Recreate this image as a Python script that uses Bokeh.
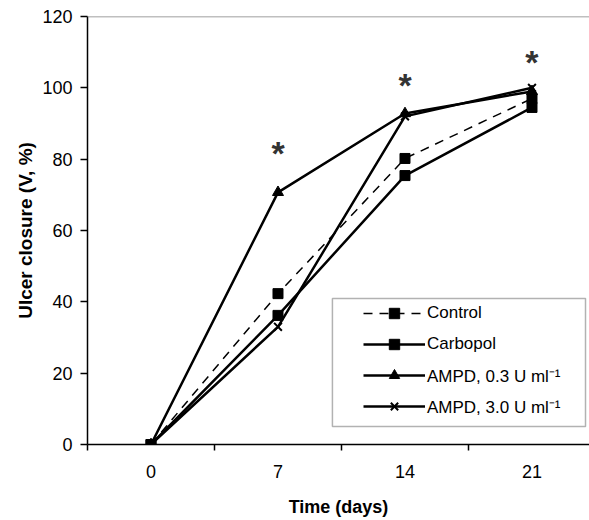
from bokeh.plotting import figure
from bokeh.models import Range1d, FixedTicker, Span, BoxAnnotation, Legend, LegendItem
from bokeh.core.properties import value
from bokeh.embed import file_html
from bokeh.resources import INLINE

# ---- data ----
days = [0, 7, 14, 21]
control = [0, 42.3, 80.2, 97.0]
carbopol = [0, 36.2, 75.4, 94.5]
ampd_03 = [0, 70.7, 92.8, 99.0]
ampd_30 = [0, 33.0, 92.0, 100.0]
sig_days = [7, 14, 21]
sig_y = [83.5, 102.5, 109.0]
y_ticks = [0, 20, 40, 60, 80, 100, 120]
boundary_ticks = [-3.5, 3.5, 10.5, 17.5, 24.5]

FONT = "Liberation Sans"

p = figure(width=589, height=520, output_backend="svg", toolbar_location=None,
           x_range=Range1d(-3.5, 24.17), y_range=Range1d(0, 120),
           min_border_left=87, min_border_right=0, min_border_top=16, min_border_bottom=76)
p.grid.visible = False
p.outline_line_color = None
p.background_fill_color = "white"
p.border_fill_color = "white"

# axes
p.xaxis.ticker = FixedTicker(ticks=days, minor_ticks=boundary_ticks)
p.xaxis.major_tick_out = 0
p.xaxis.major_tick_in = 0
p.xaxis.minor_tick_out = 6
p.xaxis.minor_tick_in = 0
p.xaxis.minor_tick_line_color = "black"
p.xaxis.minor_tick_line_width = 1.5
p.xaxis.axis_line_color = "black"
p.xaxis.axis_line_width = 1.5
p.xaxis.major_label_standoff = 14
p.xaxis.major_label_text_font = FONT
p.xaxis.major_label_text_font_size = "18px"
p.xaxis.major_label_text_color = "black"
p.xaxis.axis_label = "Time (days)"
p.xaxis.axis_label_text_font = FONT
p.xaxis.axis_label_text_font_size = "18px"
p.xaxis.axis_label_text_font_style = "bold"
p.xaxis.axis_label_text_color = "black"
p.xaxis.axis_label_standoff = 16

p.yaxis.ticker = FixedTicker(ticks=y_ticks, minor_ticks=[])
p.yaxis.major_tick_out = 7
p.yaxis.major_tick_in = 0
p.yaxis.major_tick_line_width = 1.5
p.yaxis.major_tick_line_color = "black"
p.yaxis.axis_line_color = "black"
p.yaxis.axis_line_width = 1.5
p.yaxis.major_label_standoff = 8
p.yaxis.major_label_text_font = FONT
p.yaxis.major_label_text_font_size = "18px"
p.yaxis.major_label_text_color = "black"
p.yaxis.axis_label = "Ulcer closure (V, %)"
p.yaxis.axis_label_text_font = FONT
p.yaxis.axis_label_text_font_size = "19px"
p.yaxis.axis_label_text_font_style = "bold"
p.yaxis.axis_label_text_color = "black"
p.yaxis.axis_label_standoff = 3

# top border line of the plot area
p.add_layout(Span(location=120, dimension="width", line_color="#808080", line_width=1.5))

# series
r_c_l = p.line(days, control, line_color="black", line_width=1.5, line_dash="9 7")
r_c_m = p.scatter(days, control, marker="square", size=10, color="black")
r_p_l = p.line(days, carbopol, line_color="black", line_width=2.5)
r_p_m = p.scatter(days, carbopol, marker="square", size=10, color="black")
r_a_l = p.line(days, ampd_03, line_color="black", line_width=2.5)
r_a_m = p.scatter(days, ampd_03, marker="triangle", size=11, color="black")
r_b_l = p.line(days, ampd_30, line_color="black", line_width=2.5)
r_b_m = p.scatter(days, ampd_30, marker="x", size=11, line_color="black", line_width=2)

# significance asterisks
p.text(x=sig_days, y=sig_y, text=["*"] * len(sig_days), text_align="center",
       text_baseline="middle", text_font=value(FONT), text_font_size="34px",
       text_font_style="bold", text_color="#333333", y_offset=6)

# legend frame
box = BoxAnnotation(left=10.0, right=23.95, bottom=5.05, top=40.9,
                    fill_color="white", fill_alpha=1.0, line_color="black", line_width=1.5)
p.add_layout(box)

legend = Legend(items=[
    LegendItem(label="Control", renderers=[r_c_l, r_c_m]),
    LegendItem(label="Carbopol", renderers=[r_p_l, r_p_m]),
    LegendItem(label="AMPD, 0.3 U ml\u207b\u00b9", renderers=[r_a_l, r_a_m]),
    LegendItem(label="AMPD, 3.0 U ml\u207b\u00b9", renderers=[r_b_l, r_b_m]),
], location=(276, 25), orientation="vertical")
legend.border_line_color = None
legend.background_fill_alpha = 0
legend.padding = 0
legend.margin = 0
legend.glyph_width = 62
legend.glyph_height = 26
legend.label_height = 26
legend.spacing = 5
legend.label_standoff = 2
legend.label_text_font = FONT
legend.label_text_font_size = "17px"
legend.label_text_color = "black"
p.add_layout(legend, "center")

open("out.html", "w").write(file_html(p, INLINE))
